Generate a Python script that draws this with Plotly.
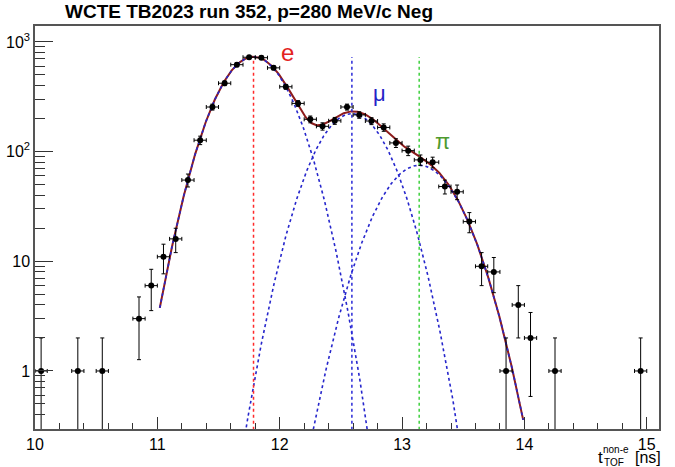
import numpy as np
import plotly.graph_objects as go

# ---------------- data ----------------
title_text = "WCTE TB2023 run 352, p=280 MeV/c Neg"

bin_centers = [10.05, 10.35, 10.55, 10.85, 10.95, 11.05, 11.15, 11.25, 11.35, 11.45,
               11.55, 11.65, 11.75, 11.85, 11.95, 12.05, 12.15, 12.25, 12.35, 12.45,
               12.55, 12.65, 12.75, 12.85, 12.95, 13.05, 13.15, 13.25, 13.35, 13.45,
               13.55, 13.65, 13.75, 13.85, 13.95, 14.05, 14.25, 14.95]
counts = [1, 1, 1, 3, 6, 11, 16, 55, 127, 255,
          420, 620, 725, 718, 580, 390, 275, 197, 170, 191,
          255, 216, 190, 166, 120, 102, 84, 80, 48, 43,
          23, 9, 8, 1, 4, 2, 1, 1]
bin_half_width = 0.05

# Gaussian fit components
particles = ["e", "μ", "π"]
amplitudes = [730, 222, 75]
means = [11.786, 12.59, 13.14]
sigmas = [0.236, 0.238, 0.26]
fit_range = [11.02, 13.99]
mean_line_top = 730

x_ticks = [10, 11, 12, 13, 14, 15]
y_ticks = [1, 10, 100, 1000]
y_ticktext = ["1", "10", "10<sup>2</sup>", "10<sup>3</sup>"]

# ---------------- styles ----------------
FONT = "Liberation Sans, Arial, Helvetica, sans-serif"
label_colors = ["#e3231f", "#2323c8", "#4f9a2e"]
line_colors = ["#ff2a2a", "#2a2ad8", "#3fd03f"]
comp_color = "#2626cc"
total_color = "#8e1c1c"

def gauss(x, a, m, s):
    return a * np.exp(-0.5 * ((x - m) / s) ** 2)

fig = go.Figure()

xt = np.linspace(fit_range[0], fit_range[1], 400)

# total fit
yt = sum(gauss(xt, a, m, s) for a, m, s in zip(amplitudes, means, sigmas))
fig.add_trace(go.Scatter(x=xt, y=yt, mode="lines",
                         line=dict(color=total_color, width=2), hoverinfo="skip"))

# components (drawn over the fit range)
for a, m, s in zip(amplitudes, means, sigmas):
    yc = gauss(xt, a, m, s)
    yc = np.where(yc < 1e-3, np.nan, yc)
    fig.add_trace(go.Scatter(x=xt, y=yc, mode="lines",
                             line=dict(color=comp_color, width=1.6, dash="dot"),
                             hoverinfo="skip"))

# mean lines
for m, c in zip(means, line_colors):
    fig.add_trace(go.Scatter(x=[m, m], y=[0.2, mean_line_top], mode="lines",
                             line=dict(color=c, width=1.5, dash="dot"), hoverinfo="skip"))

# data points
fig.add_trace(go.Scatter(
    x=bin_centers, y=counts, mode="markers",
    marker=dict(color="black", size=6),
    error_x=dict(type="constant", value=bin_half_width, color="black", thickness=1, width=2),
    error_y=dict(type="data", array=list(np.sqrt(counts)), color="black", thickness=1, width=2),
))

# particle labels
label_pos = [(12.06, 800), (12.815, 342), (13.33, 123)]
label_sizes = [24, 22, 22]
for p, (lx, ly), c, fs in zip(particles, label_pos, label_colors, label_sizes):
    fig.add_annotation(x=lx, y=np.log10(ly), text=p, showarrow=False,
                       font=dict(color=c, size=fs, family=FONT),
                       xanchor="center", yanchor="middle")

# axis title t_TOF^non-e [ns]
def px_to_paper(px, py):
    return (px - 35) / 624, (429 - py) / 403

for txt, (px, py), fs, xa in [("t", (600, 457), 17, "center"),
                              ("non-e", (602, 449), 10, "left"),
                              ("TOF", (603, 462), 10, "left"),
                              ("[ns]", (634, 458), 16, "left")]:
    xp, yp = px_to_paper(px, py)
    fig.add_annotation(xref="paper", yref="paper", x=xp, y=yp, text=txt, showarrow=False,
                       font=dict(size=fs, family=FONT, color="black"),
                       xanchor=xa, yanchor="middle", borderpad=0)

minor_y = [v * 10 ** d for d in range(-1, 4) for v in range(2, 10)]

fig.update_layout(
    width=675, height=467,
    margin=dict(l=35, r=16, t=26, b=38, autoexpand=False),
    paper_bgcolor="white", plot_bgcolor="white",
    showlegend=False,
    font=dict(family=FONT, color="black"),
    title=dict(text="<b>" + title_text + "</b>", x=65 / 675, xanchor="left",
               y=1 - 11 / 467, yanchor="middle", xref="container", yref="container",
               font=dict(size=19, family=FONT, color="black")),
    xaxis=dict(range=[10, 15.1], tickvals=x_ticks, ticks="inside", ticklen=12,
               tickcolor="#333", showline=True, linecolor="#555", linewidth=1.5,
               mirror=True, showgrid=False, zeroline=False, automargin=False,
               tickfont=dict(size=16, family=FONT),
               minor=dict(dtick=0.2, ticks="inside", ticklen=6, tickcolor="#333",
                          showgrid=False)),
    yaxis=dict(type="log", range=[-0.529, 3.145], tickvals=y_ticks, ticktext=y_ticktext,
               ticks="inside", ticklen=18, tickcolor="#333", showline=True,
               linecolor="#555", linewidth=1.5, mirror=True, showgrid=False,
               zeroline=False, automargin=False, tickfont=dict(size=16, family=FONT),
               minor=dict(tickvals=minor_y, ticks="inside", ticklen=10,
                          tickcolor="#333", showgrid=False)),
)

fig.write_html("out.html", config={"displayModeBar": False},
               post_script="document.body.style.margin='0';")
